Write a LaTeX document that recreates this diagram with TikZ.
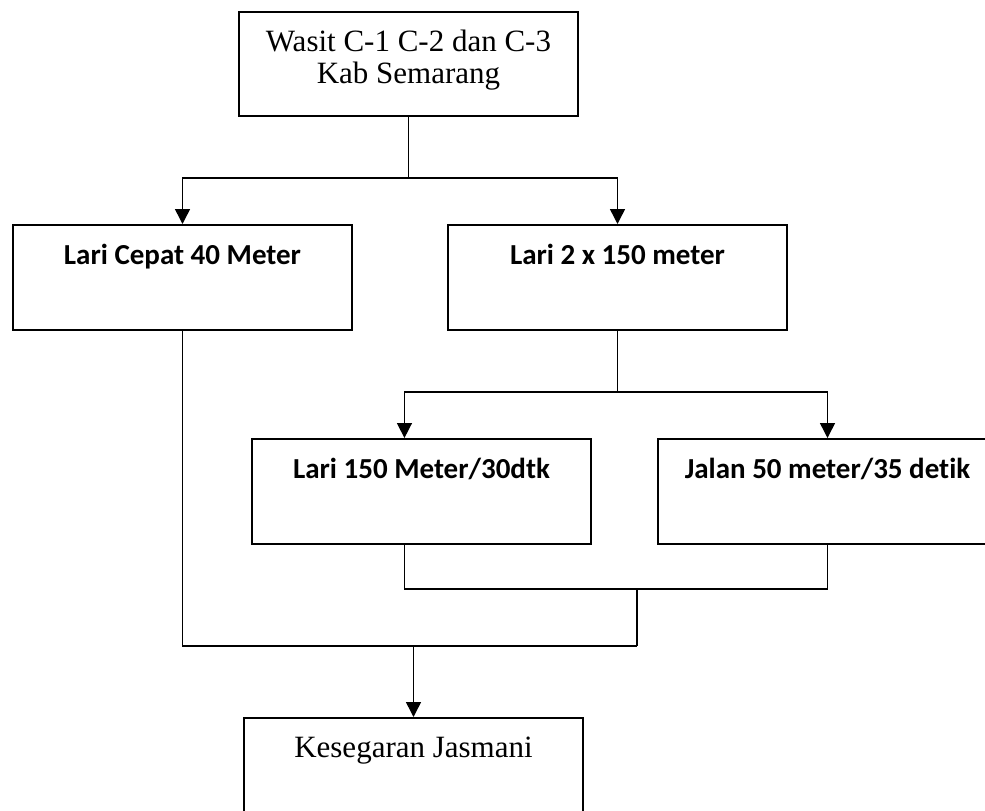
\documentclass[tikz,border=0pt]{standalone}
\usepackage{fontspec}
\setmainfont{Liberation Serif}
\newfontfamily\carlito[Ligatures=NoCommon]{Carlito}
\usetikzlibrary{arrows.meta,positioning,calc}

\begin{document}
\begin{tikzpicture}[x=1pt,y=1pt,box/.style={draw,line width=2pt,inner sep=0pt,minimum width=339pt,text height=39pt,text depth=66pt,font=\carlito\bfseries\fontsize{29}{32}\selectfont},serif/.style={box,font=\fontsize{31}{32}\selectfont},link/.style={line width=1.5pt},>={Triangle[length=15pt,width=15pt]}]
 \useasboundingbox (0,0) rectangle (985,-811); \clip (0,0) rectangle (985,-811);
 \node[box,anchor=north west] (cepat) at (12,-224) {Lari Cepat 40 Meter};
 \node[box,right=94pt of cepat] (dua) {Lari 2 x 150 meter};
 \node[serif,align=center,text height=71pt,text depth=33pt,anchor=south west] (wasit) at ($(cepat.north west)+(226,107)$) {Wasit C-1 C-2 dan C-3\\Kab Semarang};
 \node[box,anchor=north west] (lari) at ($(dua.south west)+(-196,-107)$) {Lari 150 Meter/30dtk};
 \node[box,right=65pt of lari] (jalan) {Jalan 50 meter/35 detik};
 \node[serif,anchor=north west] (sehat) at ($(lari.south west)+(-8,-172)$) {Kesegaran Jasmani};
 \draw[link] (wasit.south) -- ++(0,-61) coordinate (fork1);
 \draw[link,->] (fork1) -| (cepat.north); \draw[link,->] (fork1) -| (dua.north);
 \draw[link] (dua.south) -- ++(0,-61) coordinate (fork2);
 \coordinate (lari in) at ($(lari.north west)!0.45!(lari.north east)$);
 \draw[link,->] (fork2) -| (lari in); \draw[link,->] (fork2) -| (jalan.north);
 \draw[link] ($(lari.south west)!0.45!(lari.south east)$) -- ++(0,-44) coordinate (join1) -| (jalan.south);
 \coordinate (join2) at ($(join1)!0.55!(join1 -| jalan.south)$);
 \draw[link] (join2) -- ++(0,-57) coordinate (join3); \draw[link] (cepat.south) |- (join3);
 \draw[link,->] (join3 -| sehat.north) -- (sehat.north);
\end{tikzpicture}
\end{document}
